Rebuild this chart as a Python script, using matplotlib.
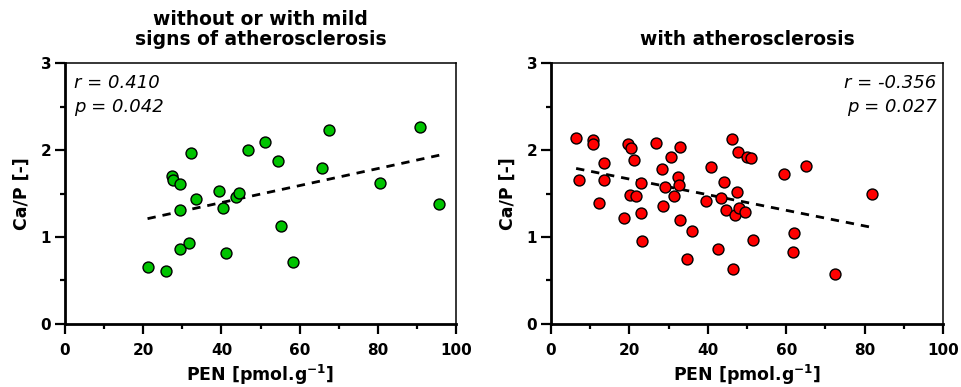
import numpy as np
import matplotlib
matplotlib.use('Agg')
import matplotlib.pyplot as plt
from matplotlib.ticker import MultipleLocator

plt.rcParams['font.family'] = ['DejaVu Sans']
plt.rcParams['mathtext.fontset'] = 'dejavusans'

# PEN vs Ca/P, group without or with mild signs of atherosclerosis
pen_mild = [21.1, 25.7, 27.4, 27.7, 29.5, 29.3, 29.3, 31.7, 32.1, 33.4, 39.4, 40.3, 41.2,
            43.6, 44.4, 46.9, 51.2, 54.5, 55.3, 58.4, 65.8, 67.5, 80.6, 90.8, 95.7]
cap_mild = [0.655, 0.613, 1.70, 1.66, 1.61, 1.31, 0.866, 0.927, 1.97, 1.44, 1.53, 1.33, 0.82,
            1.46, 1.51, 2.00, 2.09, 1.87, 1.13, 0.71, 1.79, 2.23, 1.62, 2.26, 1.38]

# group with atherosclerosis
pen_ath = [6.4, 7.1, 10.8, 10.8, 12.3, 13.4, 13.4, 18.5, 19.6, 20.4, 21.2, 20.2, 21.7, 23.0,
           23.0, 23.2, 26.8, 28.4, 29.0, 28.5, 30.7, 32.8, 32.4, 32.6, 31.3, 32.9, 36.0, 34.6,
           39.5, 40.9, 42.5, 43.3, 44.0, 44.7, 46.2, 46.3, 46.9, 47.4, 47.7, 48.0, 49.6, 49.9,
           51.0, 51.6, 59.5, 61.6, 62.1, 65.1, 72.4, 81.9]
cap_ath = [2.14, 1.65, 2.12, 2.07, 1.39, 1.85, 1.66, 1.22, 2.07, 2.02, 1.88, 1.48, 1.47, 1.62,
           1.28, 0.95, 2.08, 1.78, 1.58, 1.36, 1.92, 2.04, 1.69, 1.60, 1.47, 1.19, 1.07, 0.75,
           1.41, 1.80, 0.86, 1.45, 1.63, 1.31, 2.13, 0.63, 1.25, 1.52, 1.98, 1.33, 1.29, 1.92,
           1.91, 0.96, 1.73, 0.83, 1.04, 1.82, 0.57, 1.49]

titles = ['without or with mild\nsigns of atherosclerosis', 'with atherosclerosis']
stats = ['r = 0.410\np = 0.042', 'r = -0.356\np = 0.027']
colors = ['#00C400', '#FF0000']

fig = plt.figure(figsize=(9.62, 3.87), dpi=100)
ax1 = fig.add_axes([0.0676, 0.163, 0.4065, 0.674])
ax2 = fig.add_axes([0.5728, 0.163, 0.4075, 0.674])

groups = [(ax1, pen_mild, cap_mild), (ax2, pen_ath, cap_ath)]
for i, (ax, x, y) in enumerate(groups):
    x = np.array(x)
    y = np.array(y)
    ax.scatter(x, y, s=62, c=colors[i], edgecolors='black', linewidths=1.0, zorder=3)

    # linear fit over the data range
    k, b = np.polyfit(x, y, 1)
    xs = np.array([x.min(), x.max()])
    ax.plot(xs, k * xs + b, color='black', lw=2, ls=(0, (3, 2.5)), zorder=2)

    ax.set_xlim(0, 100)
    ax.set_ylim(0, 3)
    ax.xaxis.set_major_locator(MultipleLocator(20))
    ax.xaxis.set_minor_locator(MultipleLocator(10))
    ax.yaxis.set_major_locator(MultipleLocator(1))
    ax.yaxis.set_minor_locator(MultipleLocator(0.5))
    ax.tick_params(which='major', length=7, width=1.6, labelsize=11, pad=3)
    ax.tick_params(axis='x', which='major', pad=7)
    ax.tick_params(which='minor', length=3.5, width=1.6)
    for lab in ax.get_xticklabels() + ax.get_yticklabels():
        lab.set_fontweight('bold')
    ax.spines['left'].set_linewidth(2)
    ax.spines['bottom'].set_linewidth(2)
    ax.spines['top'].set_linewidth(1.1)
    ax.spines['right'].set_linewidth(1.1)

    ax.set_xlabel('PEN [pmol.g$^{\\mathbf{-1}}$]', fontsize=12.5, fontweight='bold', labelpad=3)
    ax.set_ylabel('Ca/P [-]', fontsize=12.5, fontweight='bold', labelpad=7)
    ax.set_title(titles[i], fontsize=13.5, fontweight='bold', linespacing=1.08, pad=13)

    if i == 0:
        ax.text(0.024, 0.96, stats[i], transform=ax.transAxes, ha='left', va='top',
                fontsize=13, style='italic', linespacing=1.45)
    else:
        ax.text(0.983, 0.96, stats[i], transform=ax.transAxes, ha='right', va='top',
                fontsize=13, style='italic', linespacing=1.45)

fig.savefig('out.png', dpi=100)
